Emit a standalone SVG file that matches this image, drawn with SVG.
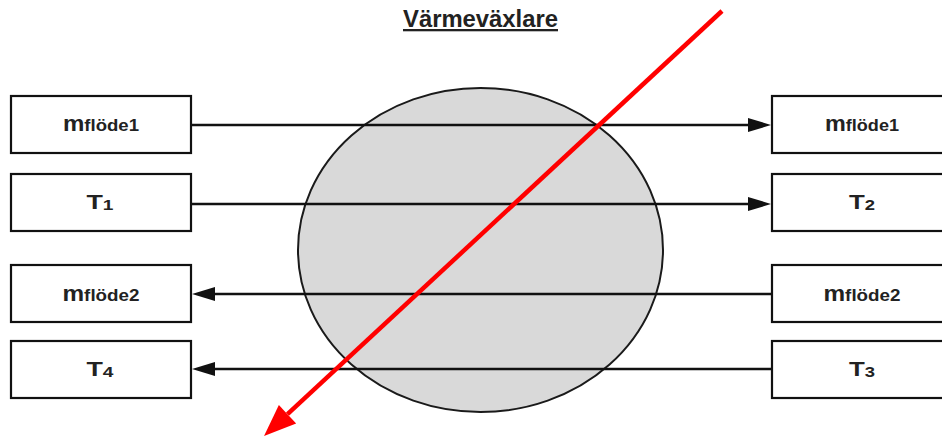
<svg xmlns="http://www.w3.org/2000/svg" width="942" height="436" viewBox="0 0 942 436">
<style>
  .box { fill: #ffffff; stroke: #111111; stroke-width: 2.2; }
  .lbl { font-family: "Liberation Sans", Arial, sans-serif; font-weight: bold; fill: #222222; text-anchor: middle; }
  .big { font-size: 22px; }
  .small { font-size: 17px; }
  .tbig { font-size: 21px; }
  .tsub { font-size: 15px; }
  .flow { stroke: #111111; stroke-width: 2.6; fill: none; marker-end: url(#ah); }
  .title { font-family: "Liberation Sans", Arial, sans-serif; font-weight: bold; font-size: 23px; fill: #222222; text-anchor: middle; text-decoration: underline; }
</style>
<defs>
  <marker id="ah" markerUnits="userSpaceOnUse" markerWidth="24" markerHeight="15" refX="0" refY="7" orient="auto" overflow="visible">
    <path d="M0,0 L23,7 L0,14 z" fill="#111111"/>
  </marker>
  <marker id="rah" markerUnits="userSpaceOnUse" markerWidth="33" markerHeight="26" refX="0" refY="12.7" orient="auto" overflow="visible">
    <path d="M0,0 L32,12.7 L0,25.4 z" fill="#ff0000"/>
  </marker>
</defs>

<text class="title" x="480.5" y="27" textLength="155" lengthAdjust="spacingAndGlyphs">Värmeväxlare</text>

<g id="exchanger">
  <ellipse cx="480.5" cy="250" rx="182.5" ry="162" fill="#d9d9d9" stroke="#1a1a1a" stroke-width="2"/>
</g>

<g id="in-mflode1">
  <rect class="box" x="11" y="96" width="180" height="57"/>
  <text class="lbl" x="101" y="131" textLength="76" lengthAdjust="spacingAndGlyphs"><tspan class="big">m</tspan><tspan class="small">flöde1</tspan></text>
</g>
<g id="in-T1">
  <rect class="box" x="11" y="174" width="180" height="57"/>
  <text class="lbl" x="100" y="209" textLength="27" lengthAdjust="spacingAndGlyphs"><tspan class="tbig">T</tspan><tspan class="tsub" dy="1">1</tspan></text>
</g>
<g id="out-mflode2">
  <rect class="box" x="11" y="265" width="180" height="57"/>
  <text class="lbl" x="101" y="301" textLength="77" lengthAdjust="spacingAndGlyphs"><tspan class="big">m</tspan><tspan class="small">flöde2</tspan></text>
</g>
<g id="out-T4">
  <rect class="box" x="11" y="341" width="180" height="57"/>
  <text class="lbl" x="100" y="376" textLength="27" lengthAdjust="spacingAndGlyphs"><tspan class="tbig">T</tspan><tspan class="tsub" dy="1">4</tspan></text>
</g>

<g id="out-mflode1">
  <rect class="box" x="772" y="96" width="180" height="57"/>
  <text class="lbl" x="862" y="131" textLength="74" lengthAdjust="spacingAndGlyphs"><tspan class="big">m</tspan><tspan class="small">flöde1</tspan></text>
</g>
<g id="out-T2">
  <rect class="box" x="772" y="174" width="180" height="57"/>
  <text class="lbl" x="862" y="209" textLength="26" lengthAdjust="spacingAndGlyphs"><tspan class="tbig">T</tspan><tspan class="tsub" dy="1">2</tspan></text>
</g>
<g id="in-mflode2">
  <rect class="box" x="772" y="265" width="180" height="57"/>
  <text class="lbl" x="862" y="301" textLength="77" lengthAdjust="spacingAndGlyphs"><tspan class="big">m</tspan><tspan class="small">flöde2</tspan></text>
</g>
<g id="in-T3">
  <rect class="box" x="772" y="341" width="180" height="57"/>
  <text class="lbl" x="862" y="376" textLength="26" lengthAdjust="spacingAndGlyphs"><tspan class="tbig">T</tspan><tspan class="tsub" dy="1">3</tspan></text>
</g>

<g id="connectors">
  <line class="flow" x1="192" y1="125" x2="748" y2="125"/>
  <line class="flow" x1="192" y1="204" x2="748" y2="204"/>
  <line class="flow" x1="771" y1="294" x2="215" y2="294"/>
  <line class="flow" x1="771" y1="369" x2="215" y2="369"/>
  <line x1="722" y1="11" x2="287.5" y2="414.2" stroke="#ff0000" stroke-width="4.5" marker-end="url(#rah)"/>
</g>
</svg>
